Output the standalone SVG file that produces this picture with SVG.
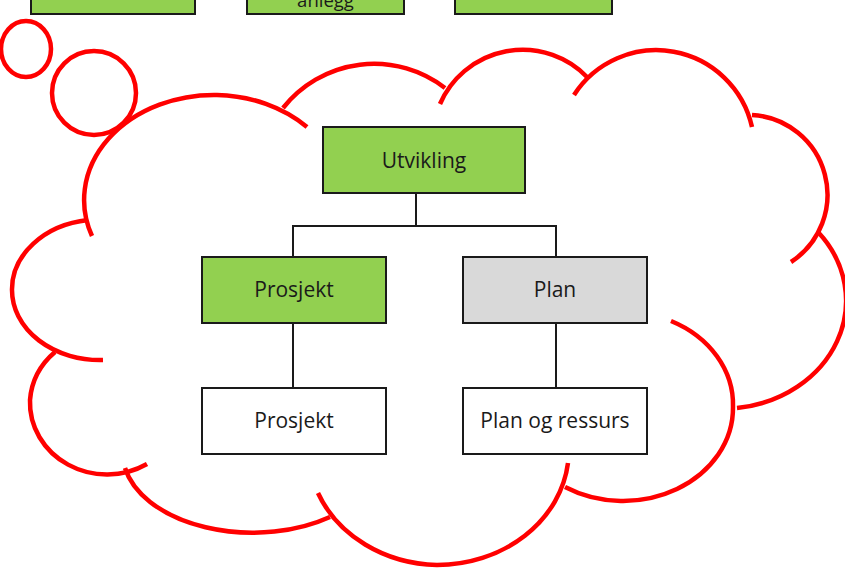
<svg xmlns="http://www.w3.org/2000/svg" width="845" height="570" viewBox="0 0 845 570">
<style>
.box{stroke:#1a1a1a;stroke-width:2}
.g{fill:#92D050}
.gr{fill:#D9D9D9}
.w{fill:#FFFFFF}
.t{font-family:"Open Sans","Noto Sans",sans-serif;font-size:21px;fill:#1a1a1a;text-anchor:middle}
.cl{fill:none;stroke:#FF0000;stroke-width:4.5;stroke-linecap:butt}
.cn{fill:none;stroke:#1a1a1a;stroke-width:2}
</style>
<rect width="845" height="570" fill="#FFFFFF"/>
<g id="top-boxes">
<rect class="box g" x="31" y="-40" width="164" height="54"/>
<rect class="box g" x="247" y="-40" width="157" height="54"/>
<text class="t" x="325.5" y="7" style="font-size:18.5px">anlegg</text>
<rect class="box g" x="455" y="-40" width="157" height="54"/>
</g>
<g id="cloud">
<ellipse class="cl" cx="26" cy="49" rx="25" ry="28"/>
<circle class="cl" cx="94" cy="93" r="42"/>
<path class="cl" d="M 92 236 A 130 105 0 0 1 217 95 A 130 105 0 0 1 307 127"/>
<path class="cl" d="M 283 108 A 116 116 0 0 1 445 88"/>
<path class="cl" d="M 440 104 A 90 90 0 0 1 587 77"/>
<path class="cl" d="M 574 95 A 98 98 0 0 1 752 127"/>
<path class="cl" d="M 752 115 A 80 80 0 0 1 791 262"/>
<path class="cl" d="M 818 232 A 123 108 0 0 1 737 408"/>
<path class="cl" d="M 671 321 A 110 93 0 0 1 733 407 A 110 93 0 0 1 565 487"/>
<path class="cl" d="M 568 463 A 132 115 0 0 1 437 565 A 132 115 0 0 1 318 493"/>
<path class="cl" d="M 330 517 A 130 80 0 0 1 125 468"/>
<path class="cl" d="M 55 352 A 77 72 0 0 0 30 400 A 77 72 0 0 0 147 464"/>
<path class="cl" d="M 88 220 A 88 70 0 0 0 12 290 A 88 70 0 0 0 103 360"/>
</g>
<g id="connectors">
<path class="cn" d="M 416 193 V 226 M 293 257 V 226 H 556 V 257"/>
<path class="cn" d="M 293 323 V 388"/>
<path class="cn" d="M 556 323 V 388"/>
</g>
<g id="utvikling">
<rect class="box g" x="323" y="127" width="202" height="66"/>
<text class="t" x="424" y="168">Utvikling</text>
</g>
<g id="prosjekt-top">
<rect class="box g" x="202" y="257" width="184" height="66"/>
<text class="t" x="294" y="297">Prosjekt</text>
</g>
<g id="plan">
<rect class="box gr" x="463" y="257" width="184" height="66"/>
<text class="t" x="555" y="297">Plan</text>
</g>
<g id="prosjekt-bottom">
<rect class="box w" x="202" y="388" width="184" height="66"/>
<text class="t" x="294" y="428">Prosjekt</text>
</g>
<g id="plan-og-ressurs">
<rect class="box w" x="463" y="388" width="184" height="66"/>
<text class="t" x="555" y="428">Plan og ressurs</text>
</g>
</svg>
